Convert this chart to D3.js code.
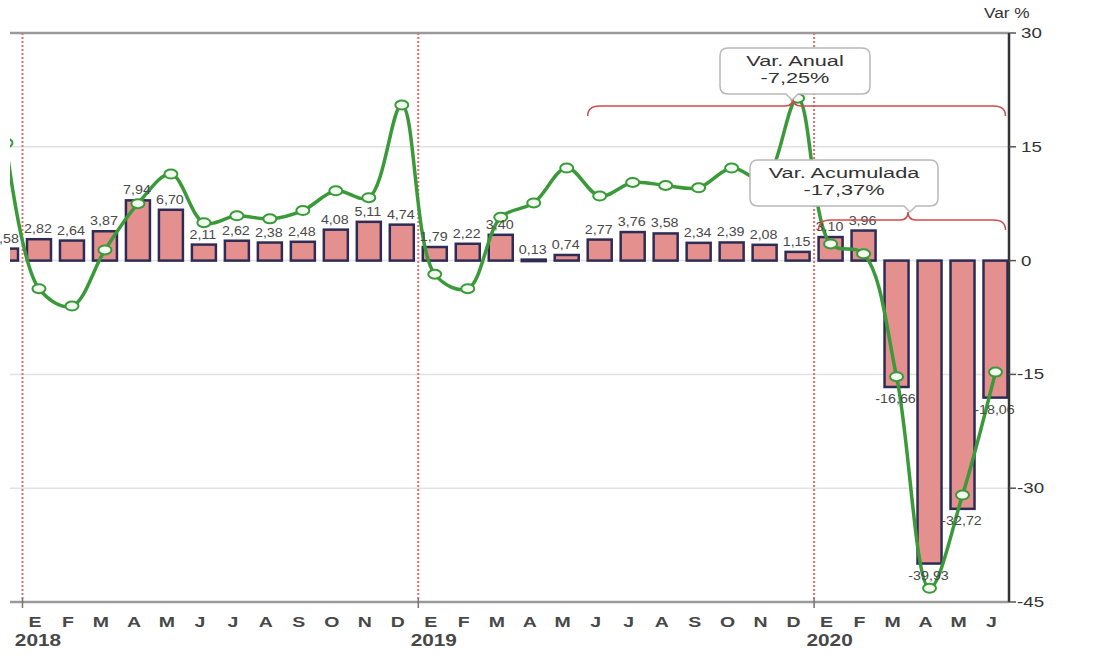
<!doctype html>
<html>
<head>
<meta charset="utf-8">
<title>Var % mensual y anual</title>
<style>
  body { margin: 0; background: #fff; }
  text { font-family: "Liberation Sans", Arial, sans-serif; }
</style>
</head>
<body>
<svg width="1099" height="659"></svg>
<script src="https://d3js.org/d3.v7.min.js"></script>
<script>
// months from Dec 2017 to Jun 2020
var months = ["D","E","F","M","A","M","J","J","A","S","O","N","D",
              "E","F","M","A","M","J","J","A","S","O","N","D",
              "E","F","M","A","M","J"];
var years = [["2018", 1], ["2019", 13], ["2020", 25]];

// monthly variation (bars)
var barValues = [1.58, 2.82, 2.64, 3.87, 7.94, 6.70, 2.11, 2.62, 2.38, 2.48, 4.08, 5.11, 4.74,
                 1.79, 2.22, 3.40, 0.13, 0.74, 2.77, 3.76, 3.58, 2.34, 2.39, 2.08, 1.15,
                 3.10, 3.96, -16.66, -39.93, -32.72, -18.06];
// annual variation (line)
var lineValues = [15.5, -3.7, -6.0, 1.4, 7.5, 11.4, 5.0, 5.9, 5.5, 6.6, 9.2, 8.3, 20.5,
                  -1.8, -3.7, 5.7, 7.6, 12.2, 8.5, 10.3, 9.9, 9.6, 12.2, 10.7, 21.4,
                  2.2, 0.9, -15.3, -43.2, -30.9, -14.7];
var yTicks = [30, 15, 0, -15, -30, -45];

var svg = d3.select("svg");
var pLeft = 10, pRight = 1009, pTop = 33, pBottom = 602;

var x = d3.scaleLinear().domain([0, 30]).range([6, 995.5]);
var y = d3.scaleLinear().domain([-45, 30]).range([pBottom, pTop]);
var barW = 24;

// the source picture is stretched sideways, so text gets a horizontal scale
function place(sel, fx, fy, sx) {
  sel.attr("transform", function(d, i) {
    return "translate(" + fx(d, i) + "," + fy(d, i) + ") scale(" + sx + ",1)";
  });
}

svg.append("clipPath").attr("id", "plot")
  .append("rect").attr("x", pLeft).attr("y", 0).attr("width", pRight - pLeft).attr("height", 659);

// grid
svg.selectAll(".grid")
  .data([15, 0, -15, -30])
  .enter().append("line")
  .attr("x1", pLeft).attr("x2", pRight)
  .attr("y1", function(d){ return y(d); })
  .attr("y2", function(d){ return y(d); })
  .style("stroke", "#e2e2e2").style("stroke-width", 1.5);

svg.append("line").attr("x1", pLeft).attr("x2", pRight).attr("y1", y(30)).attr("y2", y(30))
  .style("stroke", "#9a9a9a").style("stroke-width", 2.5);
svg.append("line").attr("x1", pLeft).attr("x2", pRight).attr("y1", y(-45)).attr("y2", y(-45))
  .style("stroke", "#9a9a9a").style("stroke-width", 2.5);

// year separators
[0.5, 12.5, 24.5].forEach(function(i) {
  svg.append("line")
    .attr("x1", x(i)).attr("x2", x(i)).attr("y1", y(30)).attr("y2", y(-45))
    .style("stroke", "#d47474").style("stroke-width", 2).style("stroke-dasharray", "2,2");
  svg.append("line")
    .attr("x1", x(i)).attr("x2", x(i)).attr("y1", y(-45) - 4).attr("y2", y(-45) + 6)
    .style("stroke", "#777").style("stroke-width", 1.5);
});

var plot = svg.append("g").attr("clip-path", "url(#plot)");

// bars
plot.selectAll(".bar")
  .data(barValues)
  .enter().append("rect")
  .attr("x", function(d, i){ return x(i) - barW / 2; })
  .attr("y", function(d){ return y(Math.max(0, d)); })
  .attr("width", barW)
  .attr("height", function(d){ return Math.max(1.5, Math.abs(y(d) - y(0))); })
  .style("fill", "#e3908e")
  .style("stroke", "#2e2c55")
  .style("stroke-width", 2.5);

// bar labels
var blabels = svg.selectAll(".blabel")
  .data(barValues)
  .enter().append("text")
  .attr("text-anchor", "middle")
  .attr("font-size", 13)
  .attr("fill", "#4a4a4a")
  .text(function(d){ return d.toFixed(2).replace(".", ","); });
place(blabels,
  function(d, i){ return x(i) - 1; },
  function(d){ return d >= 0 ? y(d) - 6 : y(d) + 16; }, 1.1);

// annual line
var line = d3.line()
  .x(function(d, i){ return x(i); })
  .y(function(d){ return y(d); })
  .curve(d3.curveCatmullRom.alpha(0.5));

plot.append("path")
  .datum(lineValues)
  .attr("d", line)
  .style("fill", "none")
  .style("stroke", "#3a9a3a")
  .style("stroke-width", 3.5);

plot.selectAll(".dot")
  .data(lineValues)
  .enter().append("ellipse")
  .attr("cx", function(d, i){ return x(i); })
  .attr("cy", function(d){ return y(d); })
  .attr("rx", 6.5).attr("ry", 4.5)
  .style("fill", "#f2fbef")
  .style("stroke", "#3a9a3a")
  .style("stroke-width", 2);

// right axis
svg.append("line").attr("x1", pRight).attr("x2", pRight).attr("y1", y(30)).attr("y2", y(-45))
  .style("stroke", "#333").style("stroke-width", 2.5);

svg.selectAll(".ytick")
  .data(yTicks)
  .enter().append("line")
  .attr("x1", pRight).attr("x2", pRight + 7)
  .attr("y1", function(d){ return y(d); })
  .attr("y2", function(d){ return y(d); })
  .style("stroke", "#555").style("stroke-width", 1.5);

var ylabels = svg.selectAll(".ylabel")
  .data(yTicks)
  .enter().append("text")
  .attr("font-size", 15)
  .attr("fill", "#333")
  .text(function(d){ return d; });
place(ylabels,
  function(d){ return d < 0 ? 1017 : 1021; },
  function(d){ return y(d) + 5; }, 1.25);

var vt = svg.append("text").datum(0)
  .attr("font-size", 15).attr("fill", "#333").text("Var %");
place(vt, function(){ return 984; }, function(){ return 18; }, 1.15);

// month labels (Dec 2017 sits off the left edge)
var mlabels = svg.selectAll(".mlabel")
  .data(months.slice(1))
  .enter().append("text")
  .attr("text-anchor", "middle")
  .attr("font-size", 15)
  .attr("font-weight", "bold")
  .attr("fill", "#484848")
  .text(function(d){ return d; });
place(mlabels, function(d, i){ return x(i + 1) - 4; }, function(){ return 627; }, 1.3);

var ylab = svg.selectAll(".ylab")
  .data(years)
  .enter().append("text")
  .attr("text-anchor", "middle")
  .attr("font-size", 16)
  .attr("font-weight", "bold")
  .attr("fill", "#484848")
  .text(function(d){ return d[0]; });
place(ylab, function(d){ return x(d[1]) - 1; }, function(){ return 646; }, 1.3);

// braces
function brace(x1, x2, xm, yy) {
  return "M" + x1 + "," + (yy + 10) +
    " Q" + x1 + "," + yy + " " + (x1 + 12) + "," + yy +
    " L" + (xm - 8) + "," + yy +
    " Q" + xm + "," + yy + " " + xm + "," + (yy - 8) +
    " Q" + xm + "," + yy + " " + (xm + 8) + "," + yy +
    " L" + (x2 - 12) + "," + yy +
    " Q" + x2 + "," + yy + " " + x2 + "," + (yy + 10);
}
svg.append("path").attr("d", brace(x(18) - 12, x(30) + 10, 793, 106))
  .style("fill", "none").style("stroke", "#cf4b4b").style("stroke-width", 1.5);
svg.append("path").attr("d", brace(x(25) - 12, x(30) + 10, 908, 220))
  .style("fill", "none").style("stroke", "#cf4b4b").style("stroke-width", 1.5);

// callouts
function callout(bx, by, bw, bh, px, py, l1, l2) {
  var g = svg.append("g");
  var r = 8;
  var d = "M" + (bx + r) + "," + by +
    " H" + (bx + bw - r) + " Q" + (bx + bw) + "," + by + " " + (bx + bw) + "," + (by + r) +
    " V" + (by + bh - r) + " Q" + (bx + bw) + "," + (by + bh) + " " + (bx + bw - r) + "," + (by + bh) +
    " H" + (px + 6) + " L" + px + "," + py + " L" + (px - 6) + "," + (by + bh) +
    " H" + (bx + r) + " Q" + bx + "," + (by + bh) + " " + bx + "," + (by + bh - r) +
    " V" + (by + r) + " Q" + bx + "," + by + " " + (bx + r) + "," + by + " Z";
  g.append("path").attr("d", d)
    .style("fill", "#fff").style("stroke", "#b8b8b8").style("stroke-width", 1.5);
  var t = g.selectAll("text").data([l1, l2]).enter().append("text")
    .attr("text-anchor", "middle").attr("font-size", 15).attr("fill", "#333")
    .text(function(s){ return s; });
  place(t, function(){ return bx + bw / 2; }, function(s, i){ return by + 18 + i * 17; }, 1.45);
}
callout(720, 48, 150, 46, 792, 100, "Var. Anual", "-7,25%");
callout(750, 160, 188, 46, 910, 212, "Var. Acumulada", "-17,37%");
</script>
</body>
</html>
